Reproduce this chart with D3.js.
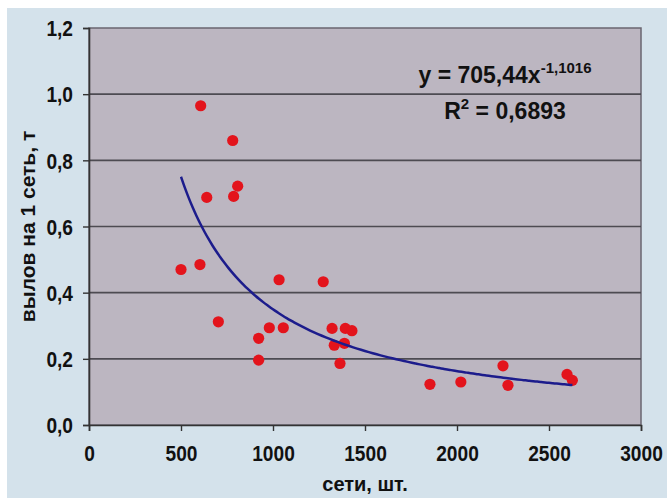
<!DOCTYPE html>
<html>
<head>
<meta charset="utf-8">
<script src="https://cdn.jsdelivr.net/npm/d3@7"></script>
<style>
  html, body { margin: 0; padding: 0; background: #ffffff; }
  svg text { font-family: "Liberation Sans", Arial, sans-serif; font-weight: bold; fill: #111; }
</style>
</head>
<body>
<svg id="chart" width="667" height="498"></svg>
<script>
// Number of nets (шт.) per observation
const nets = [500, 607, 603, 640, 703, 781, 786, 808, 922, 922, 980, 1033, 1056,
              1273, 1321, 1333, 1388, 1393, 1364, 1429, 1853, 2021, 2250, 2277, 2598, 2627];
// Catch per net (т)
const catchPerNet = [0.470, 0.965, 0.485, 0.688, 0.312, 0.860, 0.691, 0.722, 0.262, 0.196, 0.294, 0.439, 0.294,
                     0.433, 0.292, 0.241, 0.247, 0.292, 0.186, 0.285, 0.123, 0.130, 0.179, 0.120, 0.153, 0.135];
// Power trend y = a * x^b
const trendA = 705.44;
const trendB = -1.1016;
const rSquared = "0,6893";
const xTicks = [0, 500, 1000, 1500, 2000, 2500, 3000];
const yTicks = [0, 0.2, 0.4, 0.6, 0.8, 1.0, 1.2];
const xTitle = "сети, шт.";
const yTitle = "вылов на 1 сеть, т";

const svg = d3.select("#chart");
const W = 667, H = 498;
const plot = { left: 89, right: 641, top: 28, bottom: 425 };

const fmtComma = d3.formatLocale({ decimal: ",", thousands: " ", grouping: [3], currency: ["", ""], minus: "-" });
const yFmt = fmtComma.format(".1f");

// Outer chart area
svg.append("rect").attr("x", 7).attr("y", 8).attr("width", W - 7).attr("height", H - 8)
  .attr("fill", "#d4e2eb");

const x = d3.scaleLinear().domain([0, 3000]).range([plot.left, plot.right]);
const y = d3.scaleLinear().domain([0, 1.2]).range([plot.bottom, plot.top]);

// Plot area
svg.append("rect")
  .attr("x", plot.left).attr("y", plot.top)
  .attr("width", plot.right - plot.left).attr("height", plot.bottom - plot.top)
  .attr("fill", "#bcb6c1")
  .attr("stroke", "#6a6670").attr("stroke-width", 1.5);

// Horizontal gridlines
svg.append("g").selectAll("line").data(yTicks.filter(d => d > 0 && d < 1.2)).join("line")
  .attr("x1", plot.left).attr("x2", plot.right)
  .attr("y1", d => y(d)).attr("y2", d => y(d))
  .attr("stroke", "#4d4b52").attr("stroke-width", 1.6);

// Axes
const xAxis = svg.append("g").attr("transform", `translate(0,${plot.bottom})`)
  .call(d3.axisBottom(x).tickValues(xTicks).tickFormat(d3.format("d")).tickSize(6).tickPadding(9));
const yAxis = svg.append("g").attr("transform", `translate(${plot.left},0)`)
  .call(d3.axisLeft(y).tickValues(yTicks).tickFormat(yFmt).tickSize(6).tickPadding(10));

[xAxis, yAxis].forEach(g => {
  g.select(".domain").attr("stroke", "#333").attr("stroke-width", 1.6);
  g.selectAll(".tick line").attr("stroke", "#333").attr("stroke-width", 1.4);
  g.selectAll(".tick text").attr("font-size", 22).attr("fill", "#111")
    .style("font-family", '"Liberation Sans", Arial, sans-serif').style("font-weight", "bold");
});
// Tick labels are set in a narrowed bold face
xAxis.selectAll(".tick text").attr("dy", "0.95em")
  .attr("transform", "scale(0.87,1)");
yAxis.selectAll(".tick text").attr("dy", "0.35em")
  .attr("x", -16 / 0.87)
  .attr("transform", "scale(0.87,1)");

// Axis titles
svg.append("text").attr("x", x(1500)).attr("y", 491).attr("text-anchor", "middle")
  .attr("font-size", 20).text(xTitle);
svg.append("text").attr("transform", `translate(35,${y(0.6)}) rotate(-90)`)
  .attr("text-anchor", "middle").attr("font-size", 21).text(yTitle);

// Observations
svg.append("g").selectAll("circle").data(nets.map((n, i) => [n, catchPerNet[i]])).join("circle")
  .attr("cx", d => x(d[0])).attr("cy", d => y(d[1])).attr("r", 5.6)
  .attr("fill", "#e3141c");

// Power trend line across the observed range
const xMin = d3.min(nets), xMax = d3.max(nets);
const trendPts = d3.range(0, 101).map(i => {
  const v = xMin + (xMax - xMin) * i / 100;
  return [v, trendA * Math.pow(v, trendB)];
});
svg.append("path").datum(trendPts)
  .attr("d", d3.line().x(d => x(d[0])).y(d => y(d[1])).curve(d3.curveMonotoneX))
  .attr("fill", "none").attr("stroke", "#1c1c8c").attr("stroke-width", 2.5);

// Trend equation
const eq = svg.append("text").attr("x", 505).attr("y", 83).attr("text-anchor", "middle").attr("font-size", 23);
eq.append("tspan").text(`y = ${fmtComma.format(".2f")(trendA)}x`);
eq.append("tspan").attr("dy", -10).attr("font-size", 15).text(fmtComma.format(".4f")(trendB));
const r2 = svg.append("text").attr("x", 505).attr("y", 119).attr("text-anchor", "middle").attr("font-size", 23);
r2.append("tspan").text("R");
r2.append("tspan").attr("dy", -10).attr("font-size", 15).text("2");
r2.append("tspan").attr("dy", 10).text(` = ${rSquared}`);
</script>
</body>
</html>
